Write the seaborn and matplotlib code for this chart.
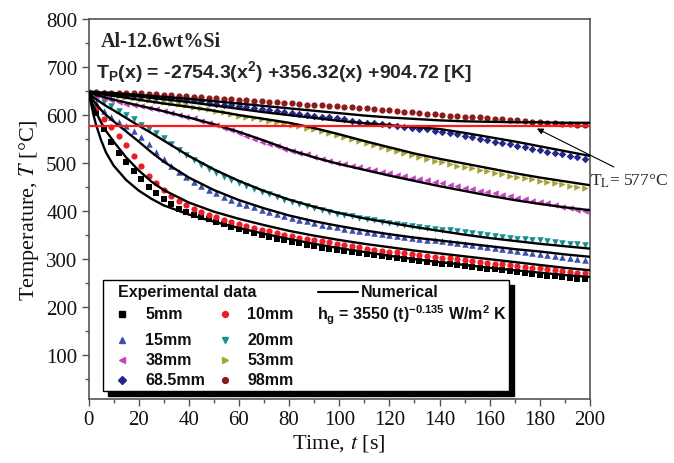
import numpy as np
import pandas as pd
import matplotlib
matplotlib.use("Agg")
import matplotlib.pyplot as plt
import seaborn as sns
from matplotlib.patches import Rectangle
from matplotlib.lines import Line2D

sns.set_style("ticks")
plt.rcParams['font.family'] = ['Liberation Serif', 'DejaVu Serif']
plt.rcParams['mathtext.fontset'] = 'custom'
plt.rcParams['mathtext.rm'] = 'Liberation Sans:bold'
plt.rcParams['mathtext.it'] = 'Liberation Sans:italic:bold'
plt.rcParams['mathtext.bf'] = 'Liberation Sans:bold'

# ---------------- data ----------------
t_exp = list(range(0, 199, 3))  # experimental sampling times [s]

exp_5 = [645, 605, 570, 545, 522, 502, 483, 466, 451, 437, 425, 414, 405, 399, 393, 388, 383, 378, 373, 368,
         363, 359, 355, 350, 347, 343, 339, 336, 333, 330, 327, 324, 322, 319, 317, 315, 312, 310, 308, 306,
         304, 302, 300, 298, 297, 295, 293, 291, 290, 288, 286, 284, 282, 280, 279, 277, 275, 273, 272, 270,
         268, 266, 264, 263, 261, 259, 258]
exp_10 = [646, 615, 592, 575, 557, 537, 515, 494, 474, 458, 444, 432, 422, 413, 405, 398, 392, 387, 382, 377,
          373, 369, 365, 361, 358, 355, 351, 348, 345, 343, 340, 337, 335, 332, 329, 327, 325, 322, 320, 318,
          316, 314, 312, 310, 309, 307, 305, 303, 302, 300, 298, 296, 294, 292, 291, 289, 287, 285, 284, 282,
          281, 279, 277, 275, 274, 272, 271]
exp_15 = [646, 625, 608, 595, 586, 577, 567, 555, 539, 523, 509, 495, 482, 471, 461, 452, 444, 437, 430, 424,
          418, 413, 408, 403, 398, 394, 390, 386, 382, 379, 375, 372, 369, 366, 363, 361, 359, 356, 354, 352,
          350, 348, 346, 344, 343, 341, 339, 337, 336, 334, 332, 330, 328, 326, 324, 322, 319, 317, 315, 313,
          311, 309, 307, 304, 302, 300, 298]
exp_20 = [646, 637, 627, 618, 609, 600, 591, 580, 571, 562, 552, 540, 527, 516, 506, 497, 488, 480, 472, 465,
          458, 452, 446, 440, 435, 430, 424, 420, 415, 411, 406, 402, 399, 395, 392, 389, 386, 383, 381, 378,
          376, 374, 372, 369, 367, 365, 363, 361, 360, 358, 356, 354, 352, 350, 349, 347, 345, 343, 342, 340,
          339, 337, 336, 334, 332, 331, 330]
exp_38 = [646, 640, 636, 632, 628, 624, 621, 618, 615, 612, 609, 605, 601, 597, 593, 588, 584, 579, 574, 569,
          563, 557, 551, 545, 540, 535, 530, 526, 522, 518, 513, 509, 505, 501, 498, 495, 491, 488, 485, 482,
          479, 476, 473, 470, 467, 464, 461, 458, 455, 452, 449, 446, 443, 440, 437, 434, 431, 428, 425, 422,
          419, 416, 412, 409, 406, 403, 400]
exp_53 = [646, 645, 643, 641, 640, 638, 636, 634, 632, 630, 628, 625, 623, 620, 617, 614, 612, 609, 606, 602,
          599, 596, 594, 591, 588, 585, 583, 580, 577, 573, 570, 566, 562, 558, 554, 550, 546, 542, 537, 533,
          529, 525, 521, 516, 513, 509, 505, 502, 499, 495, 492, 489, 486, 483, 480, 477, 474, 471, 468, 466,
          463, 461, 458, 456, 453, 451, 448]
exp_68 = [646, 645, 645, 644, 643, 642, 641, 640, 639, 638, 637, 635, 634, 632, 631, 629, 626, 624, 622, 621,
          619, 617, 614, 612, 610, 608, 606, 604, 603, 601, 599, 597, 595, 593, 591, 588, 586, 584, 583, 581,
          579, 577, 575, 573, 572, 570, 567, 565, 562, 560, 557, 554, 551, 548, 545, 542, 539, 536, 533, 530,
          527, 524, 521, 518, 515, 512, 509]
exp_98 = [648, 648, 647, 647, 646, 646, 645, 645, 644, 643, 642, 641, 640, 639, 638, 637, 636, 635, 634, 633,
          632, 631, 630, 629, 628, 627, 626, 625, 624, 622, 621, 620, 619, 618, 617, 616, 615, 614, 612, 611,
          610, 609, 607, 606, 605, 603, 602, 601, 599, 598, 597, 596, 595, 593, 592, 591, 590, 589, 588, 586,
          585, 584, 583, 582, 581, 580, 580]

t_num = [0, 1, 2, 3, 5, 7, 10, 15, 20, 25, 30, 40, 50, 60, 70, 80, 90, 100, 110, 120, 130, 140, 150, 160,
         170, 180, 190, 200]
num_5 = [646, 625, 600, 580, 548, 522, 495, 465, 443, 426, 412, 393, 378, 365, 353, 342, 332, 323, 315, 307,
         300, 294, 288, 282, 277, 272, 267, 263]
num_10 = [646, 632, 618, 606, 585, 567, 545, 512, 485, 462, 444, 418, 399, 384, 371, 359, 349, 340, 332, 325,
          318, 312, 306, 300, 294, 288, 282, 277]
num_15 = [646, 638, 630, 623, 611, 600, 587, 566, 545, 523, 503, 470, 444, 423, 406, 391, 379, 369, 360, 352,
          345, 339, 333, 327, 321, 316, 310, 305]
num_20 = [646, 641, 637, 633, 626, 619, 610, 594, 578, 563, 547, 515, 487, 463, 442, 424, 409, 396, 385, 376,
          367, 359, 351, 344, 338, 332, 327, 322]
num_38 = [646, 645, 644, 642, 639, 636, 632, 626, 620, 614, 608, 595, 581, 565, 547, 528, 512, 498, 486, 474,
          463, 452, 442, 432, 423, 415, 408, 402]
num_53 = [646, 646, 645, 645, 644, 642, 640, 636, 632, 628, 624, 617, 609, 600, 592, 584, 573, 560, 546, 533,
          520, 509, 499, 489, 479, 470, 462, 454]
num_68 = [646, 646, 646, 645, 645, 644, 643, 641, 639, 636, 633, 627, 620, 613, 606, 600, 594, 588, 583, 579,
          575, 571, 563, 554, 545, 535, 525, 515]
num_98 = [648, 648, 648, 648, 647, 647, 646, 644, 642, 640, 638, 634, 629, 624, 619, 614, 609, 604, 599, 595,
          592, 589, 587, 586, 585, 585, 584, 584]

labels = ["5mm", "10mm", "15mm", "20mm", "38mm", "53mm", "68.5mm", "98mm"]
colors = ["#000000", "#ee1c25", "#3b4fae", "#16908f", "#c444c0", "#a5a535", "#26268c", "#8c1c1c"]
markers = ["s", "o", "^", "v", "<", ">", "D", "o"]
exp_series = [exp_5, exp_10, exp_15, exp_20, exp_38, exp_53, exp_68, exp_98]
num_series = [num_5, num_10, num_15, num_20, num_38, num_53, num_68, num_98]
T_L = 577

# ---------------- figure ----------------
fig = plt.figure(figsize=(6.74, 4.64), dpi=100)
ax = fig.add_axes([88.5 / 674, 64 / 464, 501.5 / 674, 380 / 464])

sizes = [20, 20, 22, 22, 22, 22, 15, 20]
for lab, col, mk, ys, sz in zip(labels, colors, markers, exp_series, sizes):
    df = pd.DataFrame({"t": t_exp, "T": ys})
    sns.scatterplot(data=df, x="t", y="T", marker=mk, color=col, s=sz, linewidth=0,
                    ax=ax, legend=False, zorder=2)

for ys in num_series:
    df = pd.DataFrame({"t": t_num, "T": ys})
    sns.lineplot(data=df, x="t", y="T", color="black", linewidth=1.7, ax=ax,
                 legend=False, zorder=3)

ax.axhline(T_L, color="#ff1a1a", linewidth=1.6, zorder=4)

ax.set_xlim(0, 200)
ax.set_ylim(9, 800)
ax.set_xticks(range(0, 201, 20))
ax.set_xticks(range(0, 201, 10), minor=True)
ax.set_yticks(range(100, 801, 100))
ax.set_yticks(range(50, 801, 50), minor=True)
ax.tick_params(axis="both", which="major", direction="out", length=5, width=1.0,
               color="#555555", labelsize=15, pad=3, labelcolor="#111111")
ax.tick_params(axis="both", which="minor", direction="out", length=3, width=1.0,
               color="#555555")
for sp in ax.spines.values():
    sp.set_color("#555555")
    sp.set_linewidth(1.2)

ax.set_xlabel("Time, $t$ [s]", fontsize=16, math_fontfamily="stix", labelpad=2, color="#111111")
ax.set_ylabel("Temperature, $T$ [°C]", fontsize=16, math_fontfamily="stix", labelpad=4, color="#111111")

# texts inside
ax.text(0.025, 0.943, "Al-12.6wt%Si", transform=ax.transAxes, fontsize=14.5,
        fontweight="bold", va="center", ha="left")
ax.text(0.014, 0.862, r"T$_\mathrm{P}$(x) = -2754.3(x$^\mathrm{2}$) +356.32(x) +904.72 [K]",
        transform=ax.transAxes, fontsize=14, fontweight="bold", family="Liberation Sans",
        va="center", ha="left")

# T_L annotation
ax.annotate("", xy=(178.8, 572), xytext=(209.5, 492), xycoords="data",
            arrowprops=dict(arrowstyle="-|>", lw=0.8, color="black", mutation_scale=9,
                            shrinkA=0, shrinkB=0), annotation_clip=False)
fig.text(590 / 674, 1 - 181 / 464, r"T$_\mathrm{L}$= 577°C", fontsize=12.5,
         math_fontfamily="stix", va="center", ha="left")

# ---------------- legend box ----------------
x0, x1 = (103 - 88.5) / 501.5, (509 - 88.5) / 501.5
y0, y1 = (400 - 392) / 380, (400 - 281) / 380
dx, dy = 5 / 501.5, 5 / 380
ax.add_patch(Rectangle((x0 + dx, y0 - dy), x1 - x0, y1 - y0, transform=ax.transAxes,
                       facecolor="black", edgecolor="black", zorder=5, clip_on=False))
ax.add_patch(Rectangle((x0, y0), x1 - x0, y1 - y0, transform=ax.transAxes,
                       facecolor="white", edgecolor="black", linewidth=1.0, zorder=6))

lfont = dict(family="Liberation Sans", fontweight="bold", fontsize=11.5, zorder=7,
             transform=ax.transAxes, va="center", ha="left", color="#111111")
ax.text(0.059, 0.282, "Experimental data", **lfont)
rows = [0.224, 0.156, 0.103, 0.050]
cols_m = [0.0677, 0.273]
cols_t = [0.1135, 0.317]
for i, (lab, col, mk) in enumerate(zip(labels, colors, markers)):
    r, c = divmod(i, 2)
    ms = 4.2 if mk != "D" else 3.6
    ax.add_line(Line2D([cols_m[c]], [rows[r]], marker=mk, color=col, markersize=ms,
                       linestyle="none", transform=ax.transAxes, zorder=7))
    ax.text(cols_t[c], rows[r], lab, **lfont)

ax.add_line(Line2D([0.458, 0.537], [0.282, 0.282], color="black", linewidth=1.5,
                   transform=ax.transAxes, zorder=7))
ax.text(0.543, 0.282, "Numerical", **lfont)
ax.text(0.4556, 0.222, r"h$_\mathrm{g}$ = 3550 (t)$^\mathrm{-0.135}$ W/m$^\mathrm{2}$ K", **lfont)

fig.savefig("out.png", dpi=100)
